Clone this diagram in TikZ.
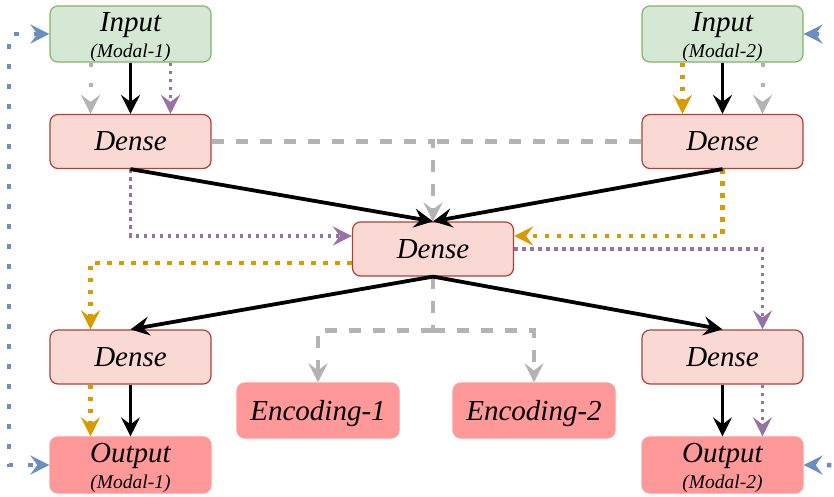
\documentclass[tikz,border=0pt]{standalone}
\usepackage{fontspec}
\setmainfont{Liberation Serif}
\usetikzlibrary{arrows.meta,calc}

\definecolor{inFill}{HTML}{D5E8D4}
\definecolor{inDraw}{HTML}{82B366}
\definecolor{denseFill}{HTML}{FAD9D5}
\definecolor{denseDraw}{HTML}{AE4132}
\definecolor{outFill}{HTML}{FF9999}
\definecolor{lnBlue}{HTML}{6C8EBF}
\definecolor{lnPurple}{HTML}{9673A6}
\definecolor{lnOrange}{HTML}{D79B00}
\definecolor{lnGray}{HTML}{B3B3B3}

\tikzset{
  tip/.tip={Stealth[length=19pt,width=19pt,inset=7pt]},
  box/.style={rectangle, rounded corners=8pt, minimum width=161pt,
    minimum height=54pt, inner sep=0pt, line width=1.2pt,
    font=\fontsize{29}{26}\selectfont\itshape},
  onebox/.style={box, text depth=0pt},
  twobox/.style={box, align=center},
  inbox/.style={twobox, fill=inFill, draw=inDraw},
  densebox/.style={onebox, fill=denseFill, draw=denseDraw},
  outbox/.style={twobox, fill=outFill, draw=outFill},
  encbox/.style={onebox, fill=outFill, draw=outFill, minimum width=162pt, minimum height=55pt},
  flow/.style={line width=3.8pt, -tip},
  gdash/.style={draw=lnGray, line width=4.5pt, dash pattern=on 12pt off 12pt},
  gdot/.style={draw=lnGray, line width=4pt, dash pattern=on 4pt off 16pt, -tip},
  pdot/.style={draw=lnPurple, line width=3.8pt, dash pattern=on 3.5pt off 4.5pt, -tip},
  odot/.style={draw=lnOrange, line width=4.5pt, dash pattern=on 4.5pt off 7.5pt, -tip},
  bdot/.style={draw=lnBlue, line width=4.5pt, dash pattern=on 4.5pt off 15.5pt, tip-tip},
}
\newcommand{\subtxt}[1]{{\fontsize{19.5}{26}\selectfont #1}}

\begin{document}
\begin{tikzpicture}[x=1pt, y=-1pt]
\useasboundingbox (0,0) rectangle (834,496);

% nodes
\node[inbox] (in1) at (130.5,34) {\rule{0pt}{26pt}Input\\\subtxt{(Modal-1)}};
\node[inbox] (in2) at (722.5,34) {\rule{0pt}{26pt}Input\\\subtxt{(Modal-2)}};
\node[densebox] (d1) at (130.5,141.5) {Dense};
\node[densebox] (d2) at (722.5,141.5) {Dense};
\node[densebox] (dc) at (433,249) {Dense};
\node[densebox] (d3) at (130.5,357) {Dense};
\node[densebox] (d4) at (722.5,357) {Dense};
\node[encbox] (enc1) at (318,410.5) {Encoding-1};
\node[encbox] (enc2) at (534,410.5) {Encoding-2};
\node[outbox] (out1) at (130.5,465) {\rule{0pt}{26pt}Output\\\subtxt{(Modal-1)}};
\node[outbox] (out2) at (722.5,465) {\rule{0pt}{26pt}Output\\\subtxt{(Modal-2)}};

% junctions of the grey dashed links
\coordinate (jtop) at (dc.north |- d1.east);
\coordinate (jbot) at ($(dc.south)+(0,54)$);

% outer feedback loops
\coordinate (bl1) at (9,34);
\coordinate (bl2) at (9,465);
\coordinate (br1) at (840,34);
\coordinate (br2) at (840,465);

% grey dashed links
\draw[gdash, -tip] (d1.east) -- (jtop) -- (dc.north);
\draw[gdash] (d2.west) -- (jtop);
\draw[gdash] (dc.south) -- (jbot);
\draw[gdash, -tip] (jbot) -| (enc1.north);
\draw[gdash, -tip] (jbot) -| (enc2.north);

% input -> dense
\draw[gdot] ([xshift=-40pt]in1.south) -- ([xshift=-40pt]d1.north);
\draw[pdot] ([xshift=40pt]in1.south) -- ([xshift=40pt]d1.north);
\draw[odot] ([xshift=-40pt]in2.south) -- ([xshift=-40pt]d2.north);
\draw[gdot] ([xshift=40pt]in2.south) -- ([xshift=40pt]d2.north);

% coloured cross links through the middle layer
\draw[pdot] (d1.south) |- ([yshift=13pt]dc.west);
\draw[odot] (d2.south) |- ([yshift=13pt]dc.east);
\draw[odot] ([yshift=-14pt]dc.west) -| ([xshift=-40pt]d3.north);
\draw[pdot] (dc.east) -| ([xshift=40pt]d4.north);
\draw[odot] ([xshift=-40pt]d3.south) -- ([xshift=-40pt]out1.north);
\draw[pdot] ([xshift=40pt]d4.south) -- ([xshift=40pt]out2.north);

% main data flow
\draw[flow] (in1.south) -- (d1.north);
\draw[flow] (in2.south) -- (d2.north);
\draw[flow] (d1.south) -- (dc.north);
\draw[flow] (d2.south) -- (dc.north);
\draw[flow] (dc.south) -- (d3.north);
\draw[flow] (dc.south) -- (d4.north);
\draw[flow] (d3.south) -- (out1.north);
\draw[flow] (d4.south) -- (out2.north);

% loops between input and output of each modality
\draw[bdot] (in1.west) -- (bl1) -- (bl2) -- (out1.west);
\draw[bdot, rounded corners=6pt] (in2.east) -- (br1) -- (br2) -- (out2.east);
\end{tikzpicture}
\end{document}
